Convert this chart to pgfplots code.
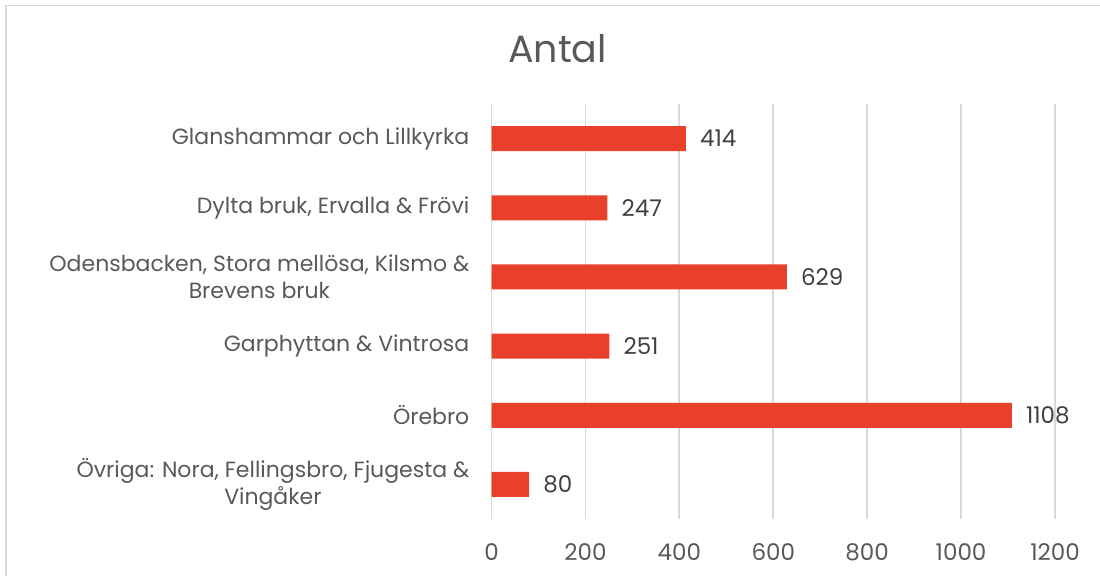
\documentclass[border=0pt]{standalone}
\usepackage{pgfplots}
\pgfplotsset{compat=1.18}
\usepackage{fontspec}
\setmainfont{Poppins}
\definecolor{barred}{HTML}{E8402A}
\definecolor{gridgray}{HTML}{D9D9D9}
\definecolor{txtgray}{HTML}{595959}
\definecolor{valgray}{HTML}{404040}
\begin{document}
\begin{tikzpicture}
\useasboundingbox (0pt,0pt) rectangle (1100pt,576pt);
\draw[color=gridgray, line width=1.8pt] (6pt,0pt) -- (6pt,570.5pt) -- (1100pt,570.5pt);
\node[font=\fontsize{38}{46}\selectfont, text=txtgray, inner sep=0pt] at (557.5pt,527pt) {Antal};
\begin{axis}[
  at={(491.5pt,57pt)}, anchor=south west,
  width=563.5pt, height=415pt, scale only axis,
  xbar, bar width=25pt,
  xmin=0, xmax=1200, xtick={0,200,...,1200},
  ymin=-0.5, ymax=5.5, y dir=reverse, ytick={0,...,5},
  yticklabels={Glanshammar och Lillkyrka, {Dylta bruk, Ervalla \& Frövi}, {Odensbacken, Stora mellösa, Kilsmo \&\\Brevens bruk}, Garphyttan \& Vintrosa, Örebro, {Övriga: Nora, Fellingsbro, Fjugesta \&\\Vingåker}},
  axis line style={draw=none},
  major tick length=0pt,
  xmajorgrids, ymajorgrids=false,
  grid style={gridgray, line width=1.8pt},
  enlargelimits=false, clip=false,
  /pgf/number format/assume math mode=true,
  /pgf/number format/1000 sep={},
  xticklabel style={font=\fontsize{23}{27}\selectfont, text=txtgray, inner sep=0pt, anchor=north, yshift=-24pt},
  yticklabel style={font=\fontsize{22}{26.5}\selectfont, text=txtgray, inner sep=0pt, anchor=east, xshift=-22pt, align=center},
  nodes near coords,
  every node near coord/.append style={font=\fontsize{23}{27}\selectfont, text=valgray, anchor=west, inner sep=0pt, xshift=14pt},
]
\addplot[fill=barred, draw=none] coordinates {(414,0) (247,1) (629,2) (251,3) (1108,4) (80,5)};
\end{axis}
\end{tikzpicture}
\end{document}
